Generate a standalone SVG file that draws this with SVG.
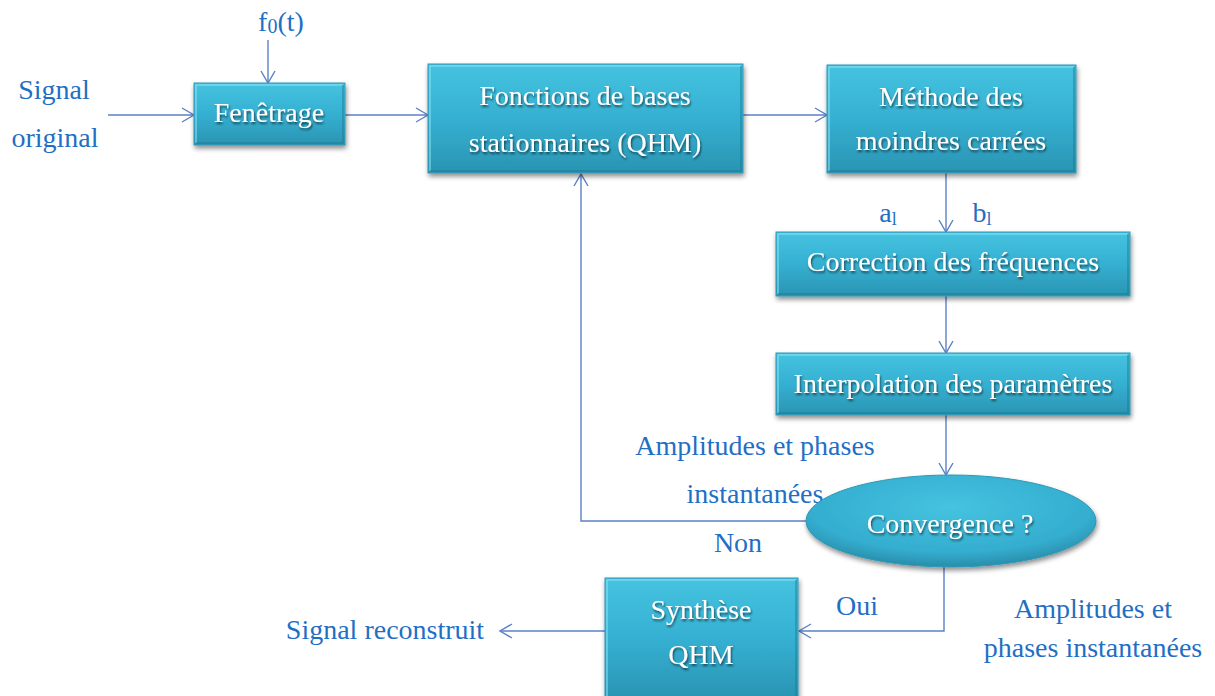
<svg xmlns="http://www.w3.org/2000/svg" width="1215" height="696" viewBox="0 0 1215 696">
<style>
.lbl{font-family:"Liberation Serif","Times New Roman",serif;font-size:28px;fill:#1F6FC5;}
.bt{font-family:"Liberation Serif","Times New Roman",serif;font-size:28px;fill:#FFFFFF;text-anchor:middle;filter:url(#ts);}
.box{fill:url(#g);stroke:#2C98B6;stroke-width:1;filter:url(#sh);}
.hi{fill:none;stroke:#8FE3F4;stroke-width:1.5;opacity:0.7;}
.lo{fill:none;stroke:#1F7890;stroke-width:1.5;opacity:0.6;}
.con{fill:none;stroke:#5B80C8;stroke-width:1.4;}
</style>
<defs>
<linearGradient id="g" x1="0" y1="0" x2="0" y2="1">
<stop offset="0" stop-color="#45C3E0"/>
<stop offset="0.5" stop-color="#35B0D2"/>
<stop offset="1" stop-color="#2A94B2"/>
</linearGradient>
<radialGradient id="ge" cx="0.5" cy="0.35" r="0.7">
<stop offset="0" stop-color="#45C3E0"/>
<stop offset="0.7" stop-color="#34ADCF"/>
<stop offset="1" stop-color="#26839E"/>
</radialGradient>
<filter id="sh" x="-10%" y="-10%" width="125%" height="130%">
<feGaussianBlur in="SourceAlpha" stdDeviation="2.5"/>
<feOffset dx="1" dy="3" result="b"/>
<feComponentTransfer><feFuncA type="linear" slope="0.45"/></feComponentTransfer>
<feMerge><feMergeNode/><feMergeNode in="SourceGraphic"/></feMerge>
</filter>
<filter id="ts" x="-5%" y="-20%" width="110%" height="150%">
<feGaussianBlur in="SourceAlpha" stdDeviation="1"/>
<feOffset dx="1" dy="1.5"/>
<feComponentTransfer><feFuncA type="linear" slope="0.6"/></feComponentTransfer>
<feMerge><feMergeNode/><feMergeNode in="SourceGraphic"/></feMerge>
</filter>
<marker id="ar" markerWidth="16" markerHeight="16" refX="13" refY="8" orient="auto" markerUnits="userSpaceOnUse">
<path d="M1,1 L13,8 L1,15" fill="none" stroke="#5B80C8" stroke-width="1.4"/>
</marker>
</defs>

<g id="connectors">
<line class="con" x1="108" y1="115" x2="194" y2="115" marker-end="url(#ar)"/>
<line class="con" x1="268" y1="40" x2="268" y2="83" marker-end="url(#ar)"/>
<line class="con" x1="345" y1="115" x2="428" y2="115" marker-end="url(#ar)"/>
<line class="con" x1="743" y1="115" x2="827" y2="115" marker-end="url(#ar)"/>
<line class="con" x1="946" y1="173" x2="946" y2="232" marker-end="url(#ar)"/>
<line class="con" x1="946" y1="296" x2="946" y2="353" marker-end="url(#ar)"/>
<line class="con" x1="946" y1="415" x2="946" y2="475" marker-end="url(#ar)"/>
<polyline class="con" points="808,521 581,521 581,174" marker-end="url(#ar)"/>
<polyline class="con" points="944,567 944,631 799,631" marker-end="url(#ar)"/>
<line class="con" x1="605" y1="631" x2="500" y2="631" marker-end="url(#ar)"/>
</g>

<g id="labels">
<text class="lbl" x="54" y="99" text-anchor="middle">Signal</text>
<text class="lbl" x="55" y="147" text-anchor="middle">original</text>
<text class="lbl" x="281" y="31" text-anchor="middle">f<tspan font-size="20" dy="2">0</tspan><tspan dy="-2">(t)</tspan></text>
<text class="lbl" x="888" y="222" text-anchor="middle">a<tspan font-size="18" dy="3">l</tspan></text>
<text class="lbl" x="982" y="222" text-anchor="middle">b<tspan font-size="18" dy="3">l</tspan></text>
<text class="lbl" x="755" y="455" text-anchor="middle">Amplitudes et phases</text>
<text class="lbl" x="755" y="503" text-anchor="middle">instantanées</text>
<text class="lbl" x="738" y="552" text-anchor="middle">Non</text>
<text class="lbl" x="857" y="615" text-anchor="middle">Oui</text>
<text class="lbl" x="1093" y="618" text-anchor="middle">Amplitudes et</text>
<text class="lbl" x="1093" y="657" text-anchor="middle">phases instantanées</text>
<text class="lbl" x="385" y="639" text-anchor="middle">Signal reconstruit</text>
</g>

<g id="fenetrage">
<rect class="box" x="194" y="83" width="151" height="62"/>
<polyline class="hi" points="196,143 196,85 343,85"/>
<polyline class="lo" points="196,143 343,143 343,85"/>
<text class="bt" x="269" y="122">Fenêtrage</text>
</g>

<g id="fonctions">
<rect class="box" x="428" y="64" width="315" height="109"/>
<polyline class="hi" points="430,171 430,66 741,66"/>
<polyline class="lo" points="430,171 741,171 741,66"/>
<text class="bt" x="585" y="105">Fonctions de bases</text>
<text class="bt" x="585" y="152">stationnaires (QHM)</text>
</g>

<g id="methode">
<rect class="box" x="827" y="65" width="249" height="108"/>
<polyline class="hi" points="829,171 829,67 1074,67"/>
<polyline class="lo" points="829,171 1074,171 1074,67"/>
<text class="bt" x="951" y="106">Méthode des</text>
<text class="bt" x="951" y="150">moindres carrées</text>
</g>

<g id="correction">
<rect class="box" x="776" y="232" width="354" height="64"/>
<polyline class="hi" points="778,294 778,234 1128,234"/>
<polyline class="lo" points="778,294 1128,294 1128,234"/>
<text class="bt" x="953" y="271">Correction des fréquences</text>
</g>

<g id="interpolation">
<rect class="box" x="776" y="353" width="354" height="62"/>
<polyline class="hi" points="778,413 778,355 1128,355"/>
<polyline class="lo" points="778,413 1128,413 1128,355"/>
<text class="bt" x="953" y="393">Interpolation des paramètres</text>
</g>

<g id="convergence">
<ellipse cx="951" cy="521" rx="145" ry="46" fill="url(#ge)" stroke="#2C98B6" stroke-width="1" filter="url(#sh)"/>
<text class="bt" x="950" y="533">Convergence ?</text>
</g>

<g id="synthese">
<rect class="box" x="605" y="578" width="193" height="122"/>
<polyline class="hi" points="607,696 607,580 796,580"/>
<line class="lo" x1="796" y1="580" x2="796" y2="696"/>
<text class="bt" x="701" y="619">Synthèse</text>
<text class="bt" x="701" y="664">QHM</text>
</g>
</svg>
